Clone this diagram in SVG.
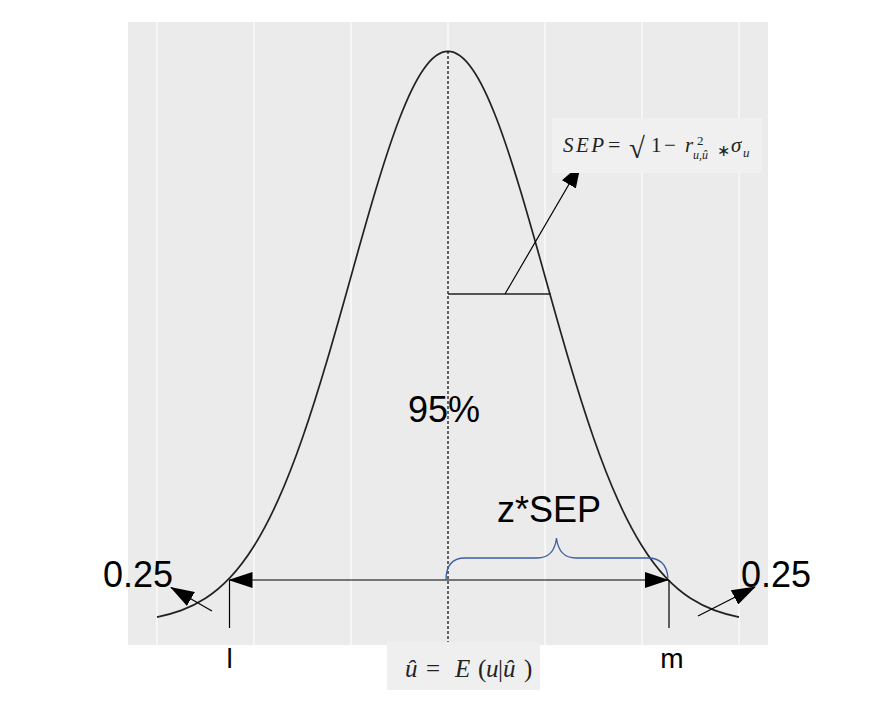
<svg xmlns="http://www.w3.org/2000/svg" width="880" height="704" viewBox="0 0 880 704">
<defs>
<marker id="ah" markerUnits="userSpaceOnUse" viewBox="0 0 24 16" markerWidth="24" markerHeight="16" refX="23" refY="8" orient="auto-start-reverse">
<path d="M0,0 L24,8 L0,16 z" fill="#000"/>
</marker>
<style>
.grid{stroke:#fff;stroke-width:1.1;}
.sans{font-family:"Liberation Sans",Arial,sans-serif;fill:#000;}
.math{font-family:"Liberation Serif","Times New Roman",serif;fill:#222;}
.it{font-style:italic;}
.conn{stroke:#000;stroke-width:1.2;fill:none;}
</style>
</defs>
<rect width="880" height="704" fill="#fff"/>
<g id="panel">
<rect x="128" y="22" width="640" height="623" fill="#ebebeb"/>
<line class="grid" x1="157" y1="22" x2="157" y2="645"/>
<line class="grid" x1="254" y1="22" x2="254" y2="645"/>
<line class="grid" x1="351" y1="22" x2="351" y2="645"/>
<line class="grid" x1="448" y1="22" x2="448" y2="645"/>
<line class="grid" x1="545" y1="22" x2="545" y2="645"/>
<line class="grid" x1="642" y1="22" x2="642" y2="645"/>
<line class="grid" x1="739" y1="22" x2="739" y2="645"/>
</g>
<g id="curve">
<path fill="none" stroke="#222" stroke-width="1.7" d="M157,617.05 C165.08,615.46 173.17,613.39 181.25,610.4 C189.33,607.41 197.42,603.54 205.5,598.3 C213.58,593.06 221.67,586.43 229.75,577.9 C237.83,569.37 245.92,558.9 254,546 C262.08,533.1 270.17,517.74 278.25,499.7 C286.33,481.66 294.42,460.92 302.5,437.7 C310.58,414.48 318.67,388.78 326.75,361.5 C334.83,334.22 342.92,305.32 351,276.4 C359.08,247.48 367.17,218.59 375.25,191.6 C383.33,164.61 391.42,139.54 399.5,118.5 C407.58,97.46 415.67,80.45 423.75,68.9 C431.83,57.35 439.92,51.3 448,51.3 C456.08,51.3 464.17,57.35 472.25,68.9 C480.33,80.45 488.42,97.46 496.5,118.5 C504.58,139.54 512.67,164.61 520.75,191.6 C528.83,218.59 536.92,247.48 545,276.4 C553.08,305.32 561.17,334.22 569.25,361.5 C577.33,388.78 585.42,414.48 593.5,437.7 C601.58,460.92 609.67,481.66 617.75,499.7 C625.83,517.74 633.92,533.1 642,546 C650.08,558.9 658.17,569.37 666.25,577.9 C674.33,586.43 682.42,593.06 690.5,598.3 C698.58,603.54 706.67,607.41 714.75,610.4 C722.83,613.39 730.92,615.46 739,617.05"/>
</g>
<g id="connectors">
<line x1="448" y1="51" x2="448" y2="645" stroke="#000" stroke-width="1.2" stroke-dasharray="3,2"/>
<line x1="448" y1="294" x2="551" y2="294" stroke="#222" stroke-width="1.5"/>
<line class="conn" x1="505" y1="294" x2="580.5" y2="164.5" marker-end="url(#ah)"/>
<line class="conn" x1="229.5" y1="580" x2="668" y2="580" marker-start="url(#ah)" marker-end="url(#ah)"/>
<line class="conn" x1="229.5" y1="580" x2="229.5" y2="628"/>
<line class="conn" x1="669" y1="580" x2="669" y2="628"/>
<line class="conn" x1="212" y1="611" x2="171" y2="587.5" marker-end="url(#ah)"/>
<line class="conn" x1="698" y1="616" x2="755" y2="587" marker-end="url(#ah)"/>
<path d="M446,580 C446,566 452,558 465,558 L537,558 C549,558 555,551 556.5,538 C558,551 564,558 576,558 L648,558 C661,558 667,566 668,578" fill="none" stroke="#3d5fa0" stroke-width="1.3"/>
</g>
<g id="label-95">
<text class="sans" x="444" y="422" font-size="36" text-anchor="middle">95%</text>
</g>
<g id="label-zsep">
<text class="sans" x="549" y="522" font-size="36" text-anchor="middle">z*SEP</text>
</g>
<g id="label-left-025">
<text class="sans" x="103" y="587" font-size="36">0.25</text>
</g>
<g id="label-right-025">
<text class="sans" x="741" y="587" font-size="36">0.25</text>
</g>
<g id="label-l">
<text class="sans" x="229.5" y="668" font-size="28" text-anchor="middle">l</text>
</g>
<g id="label-m">
<text class="sans" x="672" y="668" font-size="28" text-anchor="middle">m</text>
</g>
<g id="formula-sep">
<rect x="552" y="118" width="210" height="55" fill="#f0f0f0"/>
<text class="math it" font-size="21" x="563" y="152" textLength="41" lengthAdjust="spacing">SEP</text>
<text class="math" font-size="22" x="608" y="152">=</text>
<text class="math" font-size="29" x="629" y="158">√</text>
<text class="math" font-size="21" x="651" y="152">1</text>
<text class="math" font-size="21" x="664" y="152">−</text>
<text class="math it" font-size="21" x="685" y="152">r</text>
<text class="math" font-size="13" x="697" y="145">2</text>
<text class="math it" font-size="12" x="693" y="159">u,û</text>
<text class="math" font-size="16" x="717" y="156">∗</text>
<text class="math it" font-size="21" x="731" y="152">σ</text>
<text class="math it" font-size="13" x="743" y="157">u</text>
</g>
<g id="label-uhat">
<rect x="387" y="642" width="153" height="48" fill="#efefef"/>
<text class="math it" font-size="25" x="405" y="677">û</text>
<text class="math" font-size="25" x="426" y="677">=</text>
<text class="math it" font-size="25" x="455" y="677">E</text>
<text class="math" font-size="25" x="478" y="677">(</text>
<text class="math it" font-size="25" x="486" y="677">u</text>
<text class="math" font-size="25" x="498" y="677">|</text>
<text class="math it" font-size="25" x="503" y="677">û</text>
<text class="math" font-size="25" x="524" y="677">)</text>
</g>
</svg>
